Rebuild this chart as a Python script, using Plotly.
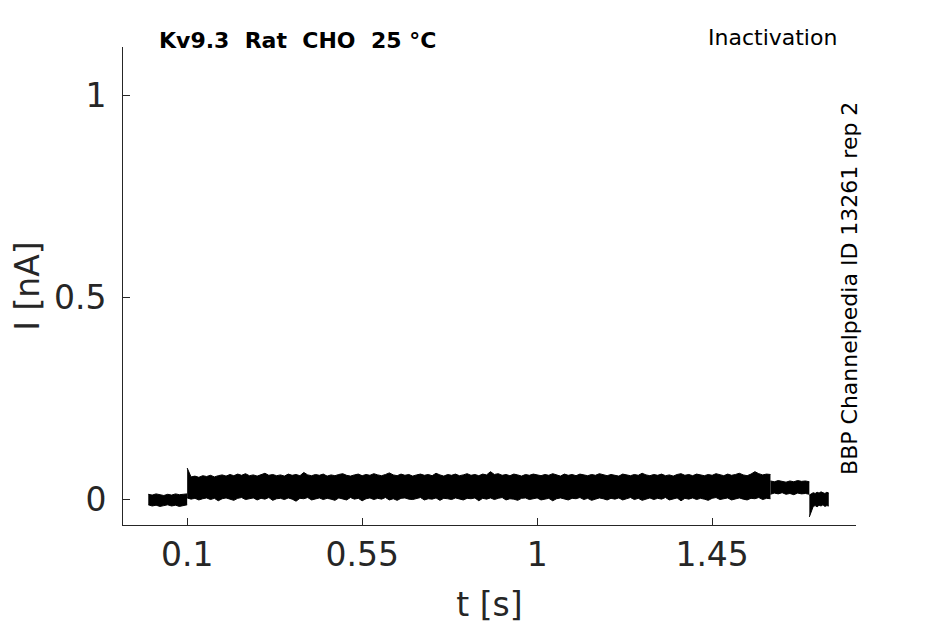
import plotly.graph_objects as go

# envelope of the recorded sweeps (upper / lower edge of the noisy band), nA
# holding period, sampled every 10 ms from 0 s
hold_t0, hold_dt = 0.0, 0.01
top_hold = [0.012, 0.010, 0.013, 0.011, 0.009, 0.012, 0.010, 0.013, 0.011, 0.012, 0.013]
bot_hold = [-0.014, -0.017, -0.015, -0.018, -0.016, -0.014, -0.017, -0.015, -0.018, -0.016, -0.014]

# prepulse, 0.1 s to 1.6 s, every 10 ms
pre_t0, pre_dt = 0.10, 0.01
top_pre = [0.077, 0.055, 0.057, 0.054, 0.058, 0.056, 0.059, 0.055, 0.058, 0.060,
           0.057, 0.061, 0.058, 0.062, 0.059, 0.063, 0.058, 0.060, 0.057, 0.061,
           0.064, 0.059, 0.061, 0.058, 0.060, 0.057, 0.062, 0.059, 0.061, 0.058,
           0.066, 0.060, 0.058, 0.061, 0.059, 0.062, 0.057, 0.060, 0.058, 0.061,
           0.063, 0.059, 0.057, 0.060, 0.062, 0.058, 0.061, 0.059, 0.063, 0.060,
           0.058, 0.061, 0.065, 0.060, 0.058, 0.062, 0.059, 0.061, 0.057, 0.060,
           0.062, 0.059, 0.061, 0.058, 0.064, 0.060, 0.057, 0.061, 0.059, 0.062,
           0.058, 0.060, 0.063, 0.059, 0.061, 0.058, 0.062, 0.060, 0.068, 0.061,
           0.063, 0.059, 0.061, 0.058, 0.062, 0.060, 0.057, 0.061, 0.059, 0.062,
           0.060, 0.058, 0.061, 0.059, 0.063, 0.060, 0.057, 0.062, 0.059, 0.061,
           0.058, 0.062, 0.060, 0.058, 0.061, 0.059, 0.063, 0.060, 0.058, 0.061,
           0.059, 0.057, 0.062, 0.060, 0.058, 0.061, 0.059, 0.064, 0.060, 0.058,
           0.061, 0.059, 0.062, 0.058, 0.060, 0.057, 0.061, 0.063, 0.059, 0.061,
           0.058, 0.062, 0.060, 0.058, 0.061, 0.059, 0.063, 0.060, 0.058, 0.062,
           0.059, 0.061, 0.064, 0.060, 0.058, 0.062, 0.068, 0.063, 0.060, 0.062,
           0.061]
bot_pre = [0.003, 0.000, 0.002, -0.002, 0.001, 0.003, -0.001, 0.002, -0.004, 0.001,
           0.003, 0.000, -0.003, 0.002, 0.004, -0.001, 0.001, 0.003, -0.002, 0.002,
           0.000, 0.004, -0.003, 0.001, 0.002, -0.001, 0.003, 0.000, -0.005, 0.002,
           0.001, 0.004, -0.002, 0.001, 0.003, -0.001, 0.002, 0.000, -0.003, 0.003,
           0.001, -0.002, 0.004, 0.000, 0.002, -0.004, 0.001, 0.003, -0.001, 0.002,
           0.000, 0.004, -0.002, 0.001, -0.003, 0.002, 0.003, 0.000, -0.001, 0.002,
           0.004, -0.002, 0.001, 0.000, 0.003, -0.003, 0.002, 0.001, -0.001, 0.003,
           0.000, -0.002, 0.002, 0.001, 0.003, -0.004, 0.002, 0.000, 0.003, -0.001,
           0.002, 0.004, -0.002, 0.001, 0.000, -0.003, 0.002, 0.003, -0.001, 0.001,
           0.003, -0.002, 0.000, 0.002, -0.004, 0.001, 0.003, 0.000, -0.002, 0.002,
           0.001, 0.004, -0.001, 0.002, -0.003, 0.000, 0.003, 0.001, -0.002, 0.002,
           0.000, 0.003, -0.002, 0.001, 0.004, -0.001, 0.002, -0.003, 0.001, 0.003,
           -0.001, 0.002, 0.000, 0.004, -0.002, 0.001, 0.003, -0.004, 0.002, 0.000,
           0.003, -0.001, 0.002, 0.000, -0.003, 0.002, 0.004, -0.001, 0.001, 0.003,
           -0.002, 0.001, 0.003, 0.000, -0.002, 0.002, 0.001, 0.004, -0.001, 0.002,
           0.001]

# test pulse, 1.6 s to 1.7 s
test_t0, test_dt = 1.60, 0.01
top_test = [0.045, 0.043, 0.046, 0.044, 0.042, 0.045, 0.043, 0.046, 0.044, 0.045, 0.043]
bot_test = [0.012, 0.015, 0.013, 0.016, 0.012, 0.014, 0.011, 0.015, 0.013, 0.014, 0.012]

# tail after the test pulse, 1.70 s to 1.75 s
tail_t0, tail_dt = 1.70, 0.005
top_tail = [0.010, 0.012, 0.016, 0.014, 0.017, 0.015, 0.018, 0.016, 0.014, 0.017, 0.015]
bot_tail = [-0.044, -0.030, -0.018, -0.016, -0.019, -0.015, -0.017, -0.014, -0.018, -0.016, -0.017]

x_ticks = [0.1, 0.55, 1, 1.45]
x_labels = ["0.1", "0.55", "1", "1.45"]
y_ticks = [0, 0.5, 1]
y_labels = ["0", "0.5", "1"]

INK = "#262626"
FONT = "DejaVu Sans"

fig = go.Figure()
segments = [
    (hold_t0, hold_dt, top_hold, bot_hold),
    (pre_t0, pre_dt, top_pre, bot_pre),
    (test_t0, test_dt, top_test, bot_test),
    (tail_t0, tail_dt, top_tail, bot_tail),
]
for t0, dt, hi, lo in segments:
    fig.add_trace(go.Scatter(x0=t0, dx=dt, y=lo, mode="lines",
                             line=dict(color="black", width=1),
                             hoverinfo="skip", showlegend=False))
    fig.add_trace(go.Scatter(x0=t0, dx=dt, y=hi, mode="lines",
                             fill="tonexty", fillcolor="black",
                             line=dict(color="black", width=1),
                             hoverinfo="skip", showlegend=False))

axis_common = dict(
    showline=True, linecolor=INK, linewidth=1, mirror=False,
    showgrid=False, zeroline=False,
    ticks="inside", ticklen=7, tickwidth=1, tickcolor=INK,
    tickfont=dict(family=FONT, size=33, color=INK),
)
fig.update_xaxes(range=[-0.065, 1.82], tickvals=x_ticks, ticktext=x_labels,
                 automargin=True,
                 title=dict(text="t [s]", standoff=20,
                            font=dict(family=FONT, size=33, color=INK)),
                 **axis_common)
fig.update_yaxes(range=[-0.064, 1.119], tickvals=y_ticks, ticktext=y_labels,
                 automargin=False, ticklabelstandoff=9,
                 title=dict(text="I [nA]", font=dict(family=FONT, size=33, color=INK)),
                 **axis_common)

# the page body adds 8 px on the left and top, so margins are trimmed to match
fig.update_layout(
    width=945, height=627,
    margin=dict(l=115, r=97, t=39, b=110),
    paper_bgcolor="white", plot_bgcolor="white",
    font=dict(family=FONT, color="black"),
    annotations=[
        dict(text="<b>Kv9.3\u00a0\u00a0Rat\u00a0\u00a0CHO\u00a0\u00a025 °C</b>",
             xref="paper", yref="paper", x=0.046, y=1.0146,
             xanchor="left", yanchor="middle", showarrow=False,
             font=dict(family=FONT, size=22, color="black")),
        dict(text="Inactivation", xref="paper", yref="paper", x=0.9770, y=1.019,
             xanchor="right", yanchor="middle", showarrow=False,
             font=dict(family=FONT, size=22, color="black")),
        dict(text="BBP Channelpedia ID 13261 rep 2", xref="paper", yref="paper",
             x=0.9918, y=0.496, xanchor="center", yanchor="middle", textangle=-90,
             showarrow=False, font=dict(family=FONT, size=22, color="black")),
    ],
)

fig.write_html("out.html")
